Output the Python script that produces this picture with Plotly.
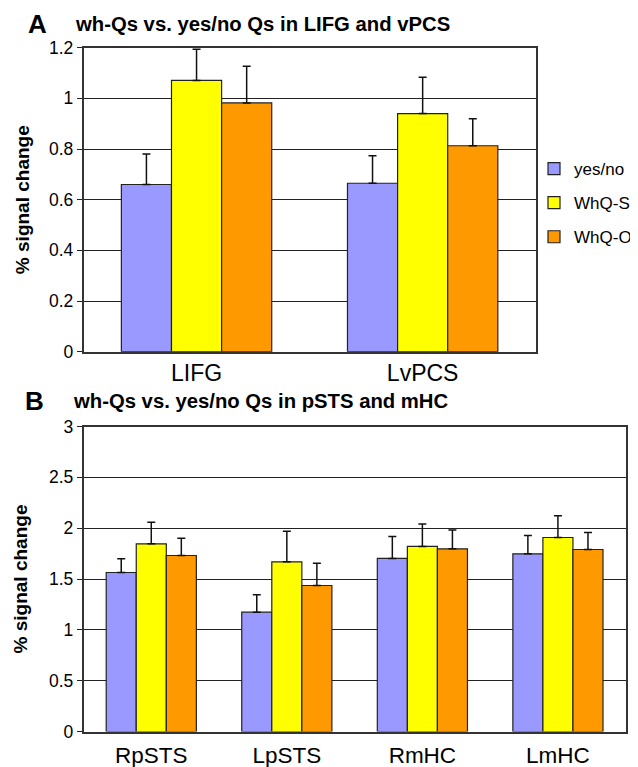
import plotly.graph_objects as go

# The page adds an 8px body margin, so the figure is sized to fill the rest of the window
OFF = 8
W, H = 638 - OFF, 767 - OFF

series = ["yes/no", "WhQ-S", "WhQ-O"]
colors = ["#9999FF", "#FFFF00", "#FF9900"]

cats_a = ["LIFG", "LvPCS"]
a_yesno = [0.66, 0.665]
a_yesno_err = [0.12, 0.108]
a_whqs = [1.071, 0.94]
a_whqs_err = [0.123, 0.143]
a_whqo = [0.982, 0.813]
a_whqo_err = [0.145, 0.107]

cats_b = ["RpSTS", "LpSTS", "RmHC", "LmHC"]
b_yesno = [1.564, 1.174, 1.702, 1.748]
b_yesno_err = [0.134, 0.17, 0.216, 0.18]
b_whqs = [1.846, 1.669, 1.82, 1.908]
b_whqs_err = [0.213, 0.30, 0.22, 0.213]
b_whqo = [1.731, 1.436, 1.797, 1.79]
b_whqo_err = [0.171, 0.22, 0.184, 0.167]

ticks_a = [0, 0.2, 0.4, 0.6, 0.8, 1, 1.2]
ticks_b = [0, 0.5, 1, 1.5, 2, 2.5, 3]

FONT = "Liberation Sans, Arial, sans-serif"

def px(x):
    return (x - OFF) / W

def py(y):
    return 1 - (y - OFF) / H

fig = go.Figure()

panel_a = [(a_yesno, a_yesno_err), (a_whqs, a_whqs_err), (a_whqo, a_whqo_err)]
panel_b = [(b_yesno, b_yesno_err), (b_whqs, b_whqs_err), (b_whqo, b_whqo_err)]

for i, (vals, errs) in enumerate(panel_a):
    fig.add_trace(go.Bar(
        x=cats_a, y=vals, name=series[i], legendgroup=series[i],
        marker=dict(color=colors[i], line=dict(color="#222222", width=1.2)),
        error_y=dict(type="data", array=errs, arrayminus=[0] * len(errs), symmetric=False,
                     color="#111111", thickness=1.5, width=4),
        xaxis="x", yaxis="y", showlegend=True,
    ))
for i, (vals, errs) in enumerate(panel_b):
    fig.add_trace(go.Bar(
        x=cats_b, y=vals, name=series[i], legendgroup=series[i],
        marker=dict(color=colors[i], line=dict(color="#222222", width=1.2)),
        error_y=dict(type="data", array=errs, arrayminus=[0] * len(errs), symmetric=False,
                     color="#111111", thickness=1.5, width=4),
        xaxis="x2", yaxis="y2", showlegend=False,
    ))

axis_common = dict(showline=True, mirror=True, linecolor="#333333", linewidth=1.5,
                   automargin=False)

fig.update_layout(
    width=W, height=H,
    margin=dict(l=0, r=0, t=0, b=0, autoexpand=False),
    paper_bgcolor="white", plot_bgcolor="white",
    font=dict(family=FONT, color="black"),
    barmode="group", bargap=0.335, bargroupgap=0,
    showlegend=True,
    legend=dict(x=px(534), y=py(151), xanchor="left", yanchor="top",
                font=dict(size=17, family=FONT), tracegroupgap=9,
                itemwidth=30, borderwidth=0,
                bgcolor="rgba(0,0,0,0)"),
    xaxis=dict(domain=[px(83.5), px(535.7)], anchor="y", showgrid=False,
               ticks="", tickfont=dict(size=23), ticklabelstandoff=0, **axis_common),
    yaxis=dict(domain=[py(351.7), py(47.7)], anchor="x", range=[0, 1.2],
               tickvals=ticks_a, ticktext=[f"{t:g}" for t in ticks_a],
               showgrid=True, gridcolor="#222222", gridwidth=1,
               ticks="outside", ticklen=5, tickcolor="#222222",
               tickfont=dict(size=17.5), zeroline=False,
               title=dict(text="<b>% signal change</b>", font=dict(size=19), standoff=14),
               **axis_common),
    xaxis2=dict(domain=[px(83.5), px(625.7)], anchor="y2", showgrid=False,
                ticks="", tickfont=dict(size=22.5), ticklabelstandoff=3, **axis_common),
    yaxis2=dict(domain=[py(731.5), py(426.5)], anchor="x2", range=[0, 3],
                tickvals=ticks_b, ticktext=[f"{t:g}" for t in ticks_b],
                showgrid=True, gridcolor="#222222", gridwidth=1,
                ticks="outside", ticklen=5, tickcolor="#222222",
                tickfont=dict(size=17.5), zeroline=False,
                title=dict(text="<b>% signal change</b>", font=dict(size=19), standoff=16),
                **axis_common),
)

annos = [
    ("<b>A</b>", 26, 24, 26),
    ("<b>wh-Qs vs. yes/no Qs in LIFG and vPCS</b>", 73, 24, 20.3),
    ("<b>B</b>", 23, 401, 26),
    ("<b>wh-Qs vs. yes/no Qs in pSTS and mHC</b>", 71, 401, 20.3),
]
for text, x, y, size in annos:
    fig.add_annotation(text=text, x=px(x), y=py(y), xref="paper", yref="paper",
                       xanchor="left", yanchor="middle", showarrow=False,
                       font=dict(size=size, family=FONT, color="black"))

fig.write_html("out.html")
